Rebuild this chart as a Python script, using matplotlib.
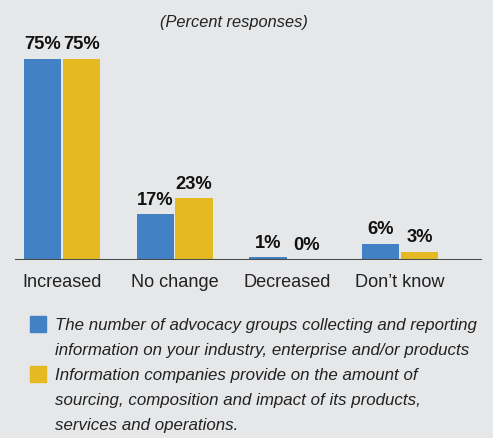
import matplotlib
matplotlib.use("Agg")
import matplotlib.pyplot as plt
import numpy as np
from matplotlib.patches import Rectangle

categories = ["Increased", "No change", "Decreased", "Don\u2019t know"]
advocacy = [75, 17, 1, 6]
companies = [75, 23, 0, 3]
legend_labels = [
    ["The number of advocacy groups collecting and reporting",
     "information on your industry, enterprise and/or products"],
    ["Information companies provide on the amount of",
     "sourcing, composition and impact of its products,",
     "services and operations."],
]

BG = "#e6e7e9"
BLUE = "#4181c4"
GOLD = "#e4b922"
FONT = "Liberation Sans"
plt.rcParams["font.family"] = [FONT, "DejaVu Sans"]

W, H = 493, 438
fig = plt.figure(figsize=(W / 100, H / 100), dpi=100, facecolor=BG)
renderer = fig.canvas.get_renderer()


def fit_size(text, width_px, **kw):
    # font size (pt) that gives the text the wanted pixel width
    t = fig.text(0, 0, text, fontsize=10, **kw)
    w = t.get_window_extent(renderer).width
    t.remove()
    return 10 * width_px / w


ax = fig.add_axes([15 / W, 1 - 260 / H, 467 / W, 260 / H])
ax.set_facecolor(BG)

x = np.arange(len(categories))
bw = 0.33
off = 0.172
b1 = ax.bar(x - off, advocacy, bw, color=BLUE, zorder=2)
b2 = ax.bar(x + off, companies, bw, color=GOLD, zorder=2)
ax.axhline(0, color="#4a4a4a", lw=1.5, zorder=3)

val_size = fit_size("75%", 37, fontweight="bold")
for bars, vals in ((b1, advocacy), (b2, companies)):
    for r, v in zip(bars, vals):
        ax.annotate(f"{v}%", (r.get_x() + r.get_width() / 2, v),
                    xytext=(0, 4), textcoords="offset points",
                    ha="center", va="bottom", fontsize=val_size,
                    fontweight="bold", color="#111111")

cat_size = fit_size("Increased", 80)
ax.set_xlim(-0.417, 3.727)
ax.set_ylim(0, 97)
ax.set_xticks(x)
ax.set_xticklabels(categories, fontsize=cat_size, color="#222222")
ax.tick_params(axis="x", length=0, pad=10)
ax.set_yticks([])
for s in ax.spines.values():
    s.set_visible(False)

title_size = fit_size("(Percent responses)", 148, style="italic")
fig.text(234 / W, 1 - 22 / H, "(Percent responses)", ha="center", va="center",
         style="italic", fontsize=title_size, color="#222222")

# legend: one text per line, baselines 25 px apart
leg_size = fit_size(legend_labels[0][0], 422, style="italic")
baseline = 330
for lines, col in zip(legend_labels, [BLUE, GOLD]):
    fig.patches.append(Rectangle((30 / W, 1 - (baseline - 6 + 8) / H), 16 / W, 16 / H,
                                 transform=fig.transFigure, color=col))
    for line in lines:
        fig.text(55 / W, 1 - baseline / H, line, ha="left", va="baseline",
                 style="italic", fontsize=leg_size, color="#222222")
        baseline += 25

fig.savefig("out.png", dpi=100, facecolor=BG)
